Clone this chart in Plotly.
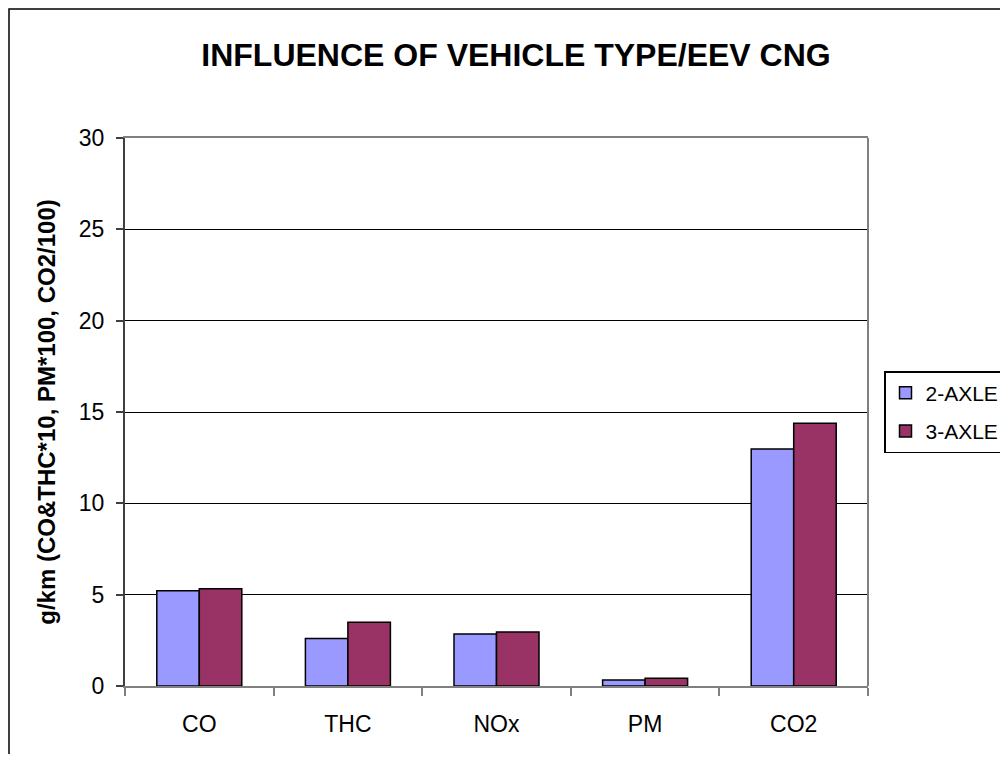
import plotly.graph_objects as go

categories = ["CO", "THC", "NOx", "PM", "CO2"]
axle2 = [5.22, 2.6, 2.84, 0.33, 12.97]
axle3 = [5.32, 3.49, 2.96, 0.42, 14.39]
series_names = ["2-AXLE", "3-AXLE"]
y_ticks = [0, 5, 10, 15, 20, 25, 30]

font_family = "Liberation Sans, Arial, sans-serif"
color_2axle = "#9999FF"
color_3axle = "#993366"

# the page body has an 8px margin, so the figure is sized to fit inside the window
W, H = 992, 746
plot_l, plot_r, plot_t, plot_b = 117, 860, 130, 678
pw, ph = plot_r - plot_l, plot_b - plot_t

fig = go.Figure()
fig.add_trace(go.Bar(
    x=categories, y=axle2, name=series_names[0], legendgroup="a",
    marker=dict(color=color_2axle, line=dict(color="black", width=1.5)),
))
fig.add_trace(go.Bar(
    x=categories, y=axle3, name=series_names[1], legendgroup="b",
    marker=dict(color=color_3axle, line=dict(color="black", width=1.5)),
))

# plot area border on the right and the outer chart frame
shapes = [
    dict(type="line", xref="paper", yref="paper", x0=1, x1=1, y0=0, y1=1,
         line=dict(color="#808080", width=2)),
    dict(type="rect", xref="paper", yref="paper",
         x0=(1 - plot_l) / pw, x1=(W + 20 - plot_l) / pw,
         y0=(plot_b - H - 20) / ph, y1=(plot_b - 1) / ph,
         line=dict(color="black", width=1.5), fillcolor="rgba(0,0,0,0)"),
]

fig.update_layout(
    width=W,
    height=H,
    paper_bgcolor="white",
    plot_bgcolor="white",
    font=dict(family=font_family, color="black", size=23),
    title=dict(
        text="<b>INFLUENCE OF VEHICLE TYPE/EEV CNG</b>",
        font=dict(size=32, family=font_family, color="black"),
        x=(508 - plot_l) / pw, xref="paper", xanchor="center",
        y=1 - 47 / H, yref="container", yanchor="middle",
    ),
    barmode="group",
    bargap=0.428,
    bargroupgap=0,
    margin=dict(l=plot_l, r=W - plot_r, t=plot_t, b=H - plot_b, pad=0,
                autoexpand=False),
    showlegend=True,
    legend=dict(
        x=(876 - plot_l) / pw, xanchor="left",
        y=(plot_b - 363) / ph, yanchor="top",
        bordercolor="black", borderwidth=1.5,
        bgcolor="white",
        font=dict(size=21),
        traceorder="grouped",
        tracegroupgap=8,
    ),
    xaxis=dict(
        showgrid=False,
        showline=True, linecolor="#808080", linewidth=2, mirror=True,
        ticks="outside", tickson="boundaries", ticklen=8,
        tickcolor="#808080", tickwidth=2,
        tickfont=dict(size=23),
        ticklabelstandoff=16,
        automargin=False,
    ),
    yaxis=dict(
        range=[0, 30],
        tickvals=y_ticks,
        showgrid=True, gridcolor="black", gridwidth=1,
        zeroline=False,
        showline=True, linecolor="#404040", linewidth=2,
        ticks="outside", ticklen=7, tickcolor="#404040", tickwidth=1.5,
        tickfont=dict(size=23),
        ticklabelstandoff=7,
        automargin=False,
        title=dict(
            text="<b>g/km (CO&THC*10, PM*100, CO2/100)</b>",
            font=dict(size=24),
            standoff=16,
        ),
    ),
    shapes=shapes,
)

fig.write_html("out.html")
